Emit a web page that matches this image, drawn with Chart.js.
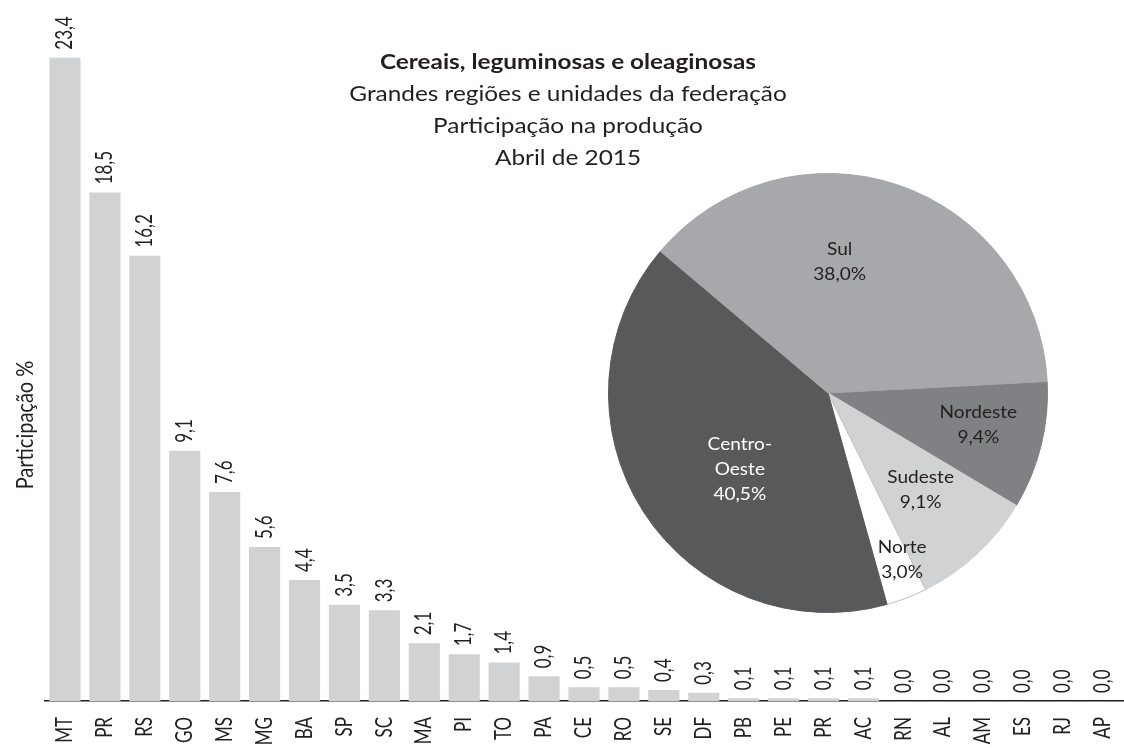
<!DOCTYPE html>
<html>
<head>
<meta charset="utf-8">
<script src="https://cdn.jsdelivr.net/npm/chart.js@4.4.1/dist/chart.umd.min.js"></script>
<style>
  html, body { margin: 0; padding: 0; background: #fff; overflow: hidden; }
  #wrap { position: relative; width: 1124px; height: 748px; }
  #barChart { position: absolute; left: 0; top: 0; }
  #pieChart { position: absolute; left: 608px; top: 173px; }
</style>
</head>
<body>
<div id="wrap">
  <canvas id="barChart" width="1124" height="748"></canvas>
  <canvas id="pieChart" width="440" height="440"></canvas>
</div>
<script>
// ufs (participação %)
var ufLabels = ['MT', 'PR', 'RS', 'GO', 'MS', 'MG', 'BA', 'SP', 'SC', 'MA', 'PI', 'TO', 'PA', 'CE',
    'RO', 'SE', 'DF', 'PB', 'PE', 'PR', 'AC', 'RN', 'AL', 'AM', 'ES', 'RJ', 'AP'];
var ufValues = [23.4, 18.5, 16.2, 9.1, 7.6, 5.6, 4.4, 3.5, 3.3, 2.1, 1.7, 1.4, 0.9, 0.5,
    0.5, 0.4, 0.3, 0.1, 0.1, 0.1, 0.1, 0.0, 0.0, 0.0, 0.0, 0.0, 0.0];

// grandes regiões
var regLabels = [['Nordeste'], ['Sudeste'], ['Norte'], ['Centro-', 'Oeste'], ['Sul']];
var regValues = [9.4, 9.1, 3.0, 40.5, 38.0];
var regColors = ['#808184', '#d1d2d4', '#ffffff', '#58595b', '#a7a8ab'];

var titleLines = ['Cereais, leguminosas e oleaginosas', 'Grandes regiões e unidades da federação',
    'Participação na produção', 'Abril de 2015'];

var FONT = 'Lato, "Open Sans", sans-serif';
var INK = '#231f20';

function fmt(v) {
    return v.toFixed(1).replace('.', ',');
}

// the source art is a bit wider than tall, so text gets stretched a little
function putText(ctx, text, x, y, rot, sx, sy) {
    ctx.save();
    ctx.translate(x, y);
    ctx.rotate(rot);
    ctx.scale(sx, sy);
    ctx.fillText(text, 0, 0);
    ctx.restore();
}

var barExtras = {
    id: 'barExtras',
    afterDatasetsDraw: function(chart) {
        var ctx = chart.ctx;
        var meta = chart.getDatasetMeta(0);
        var xs = chart.scales.x;
        ctx.save();
        ctx.fillStyle = INK;
        ctx.textBaseline = 'middle';

        // values over the bars
        ctx.font = '17px ' + FONT;
        ctx.textAlign = 'left';
        meta.data.forEach(function(bar, i) {
            putText(ctx, fmt(ufValues[i]), bar.x, bar.y - 8, -Math.PI / 2, 1, 1.3);
        });

        // category labels under the axis
        ctx.textAlign = 'right';
        ufLabels.forEach(function(lab, i) {
            putText(ctx, lab, xs.getPixelForValue(i), xs.top + 16, -Math.PI / 2, 1, 1.3);
        });

        // y axis title
        ctx.font = '20px ' + FONT;
        ctx.textAlign = 'center';
        putText(ctx, 'Participação %', 26, 425, -Math.PI / 2, 1, 1.15);

        // title block
        for (var i = 0; i < titleLines.length; i++) {
            ctx.font = (i == 0 ? 'bold ' : '') + '21px ' + FONT;
            putText(ctx, titleLines[i], 568, 62 + i * 32, 0, 1.16, 1);
        }
        ctx.restore();
    }
};

new Chart(document.getElementById('barChart').getContext('2d'), {
    type: 'bar',
    data: {
        labels: ufLabels,
        datasets: [{
            data: ufValues,
            backgroundColor: '#d1d2d4',
            borderWidth: 0,
            barPercentage: 0.78,
            categoryPercentage: 1
        }]
    },
    options: {
        responsive: false,
        animation: false,
        layout: { padding: { left: 45, right: 1, top: 0, bottom: 0 } },
        plugins: { legend: { display: false }, tooltip: { enabled: false } },
        scales: {
            x: {
                grid: { display: false, drawTicks: false },
                border: { display: true, color: INK, width: 1.5 },
                ticks: { display: false },
                afterFit: function(scale) { scale.height = 47; }
            },
            y: {
                display: false,
                min: 0,
                max: 25.5
            }
        }
    },
    plugins: [barExtras]
});

// polar spot of each region label: [fraction of radius, angle shift in degrees]
var pieLabelSpot = [[0.70, -2], [0.61, -1], [0.83, -3], [0.53, -8], [0.60, -13.5]];

var pieText = {
    id: 'pieText',
    afterDatasetsDraw: function(chart) {
        var ctx = chart.ctx;
        var meta = chart.getDatasetMeta(0);
        ctx.save();
        ctx.font = '18px ' + FONT;
        ctx.textAlign = 'center';
        ctx.textBaseline = 'middle';
        meta.data.forEach(function(arc, i) {
            var p = arc.getProps(['x', 'y', 'startAngle', 'endAngle', 'outerRadius'], true);
            var a = (p.startAngle + p.endAngle) / 2 + pieLabelSpot[i][1] * Math.PI / 180;
            var r = p.outerRadius * pieLabelSpot[i][0];
            var cx = p.x + r * Math.cos(a);
            var cy = p.y + r * Math.sin(a);
            var lines = regLabels[i].concat([fmt(regValues[i]) + '%']);
            var top = cy - (lines.length - 1) * 25 / 2;
            ctx.fillStyle = i == 3 ? '#ffffff' : INK;
            lines.forEach(function(t, k) {
                putText(ctx, t, cx, top + k * 25, 0, 1.06, 1);
            });
        });
        ctx.restore();
    }
};

new Chart(document.getElementById('pieChart').getContext('2d'), {
    type: 'pie',
    data: {
        labels: regLabels.map(function(l) { return l.join(''); }),
        datasets: [{
            data: regValues,
            backgroundColor: regColors,
            borderColor: ['#808184', '#d1d2d4', '#bcbec0', '#58595b', '#a7a8ab'],
            borderWidth: [1, 1, 1, 1, 1]
        }]
    },
    options: {
        responsive: false,
        animation: false,
        rotation: 87,
        layout: { padding: 0 },
        plugins: { legend: { display: false }, tooltip: { enabled: false } }
    },
    plugins: [pieText]
});
</script>
</body>
</html>
